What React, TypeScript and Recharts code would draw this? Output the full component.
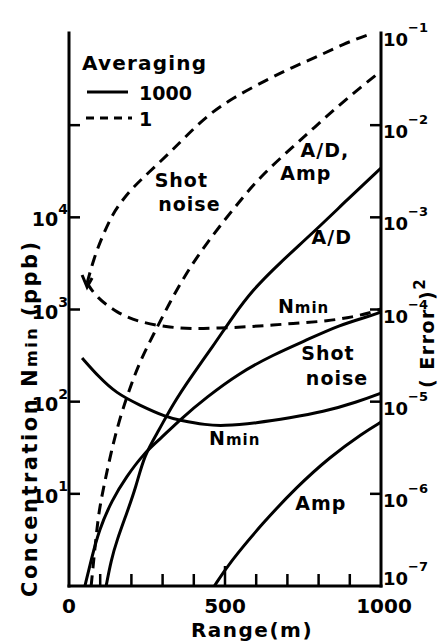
import React from 'react';
import { ComposedChart, Line, XAxis, YAxis, ReferenceDot } from 'recharts';

// Range (m) on x, concentration N (ppb) on y

// averaging 1000 (solid)
const nmin1000X = [42, 96, 151, 225, 312, 354, 441, 492, 601, 707, 814, 923, 1000];
const nmin1000Y = [298, 185, 124, 92, 68, 63, 55.8, 54.4, 58.7, 66.5, 77.3, 99, 124];

const shot1000X = [51, 71, 96, 138, 183, 241, 289, 354, 441, 547, 653, 762, 868, 955, 1000];
const shot1000Y = [1, 1.91, 4.05, 8.6, 15.2, 27.7, 38.4, 63.2, 112, 205, 321, 467, 679, 828, 939];

const ad1000X = [119, 135, 154, 183, 215, 241, 289, 331, 395, 460, 524, 588, 675, 781, 891, 1000];
const ad1000Y = [1, 1.91, 3.16, 5.89, 11.9, 26.4, 49.3, 92, 195, 392, 828, 1627, 3190, 6760, 15400, 34300];

const amp1000X = [466, 514, 621, 730, 836, 942, 1000];
const amp1000Y = [1, 1.78, 4.83, 11.9, 25.1, 45.7, 60];

// averaging 1 (dashed)
const nmin1X = [58, 87, 154, 225, 312, 395, 482, 569, 653, 740, 826, 910, 974, 1000];
const nmin1Y = [1938, 1367, 916, 731, 646, 614, 630, 646, 679, 713, 750, 828, 939, 1012];

const shot1X = [58, 80, 106, 138, 167, 203, 257, 322, 363, 441, 524, 633, 717, 794, 878, 974];
const shot1Y = [1938, 3620, 6110, 10600, 14700, 20800, 31000, 49900, 69000, 126000, 197000, 309000, 427000, 548000, 759000, 1000000];

const adAmp1X = [71, 84, 96, 116, 135, 161, 193, 225, 273, 322, 376, 441, 524, 611, 717, 788, 859, 932, 1000];
const adAmp1Y = [1, 2.79, 6.68, 14.1, 28.4, 63.2, 134, 263, 556, 1176, 2490, 5260, 12000, 27400, 57900, 95500, 157000, 253000, 387000];

// axes
const rangeTicks = [0, 100, 200, 300, 400, 500, 600, 700, 800, 900, 1000];
const rangeLabels = [0, 500, 1000];
const concTicks = [1, 10, 100, 1000, 10000, 100000, 1000000];
const concLabels = [10, 100, 1000, 10000];
const errorTicks = [1e-7, 1e-6, 1e-5, 1e-4, 1e-3, 1e-2, 1e-1];

const averagingLabels = ['1000', '1'];

// curve labels: [range, concentration, text, subscript]
const notes: [number, number, string, string][] = [
  [360, 25400, 'Shot', ''],
  [386, 14000, 'noise', ''],
  [820, 53700, 'A/D,', ''],
  [759, 30300, 'Amp', ''],
  [842, 6120, 'A/D', ''],
  [752, 1091, 'N', 'min'],
  [830, 337, 'Shot', ''],
  [859, 182, 'noise', ''],
  [531, 40.3, 'N', 'min'],
  [807, 7.95, 'Amp', ''],
];

const pts = (xs: number[], ys: number[]) => xs.map((x, i) => ({ x, y: ys[i] }));

const curves = [
  { id: 'nmin1000', data: pts(nmin1000X, nmin1000Y), dashed: false },
  { id: 'shot1000', data: pts(shot1000X, shot1000Y), dashed: false },
  { id: 'ad1000', data: pts(ad1000X, ad1000Y), dashed: false },
  { id: 'amp1000', data: pts(amp1000X, amp1000Y), dashed: false },
  { id: 'nmin1', data: pts(nmin1X, nmin1Y), dashed: true },
  { id: 'shot1', data: pts(shot1X, shot1Y), dashed: true },
  { id: 'adamp1', data: pts(adAmp1X, adAmp1Y), dashed: true },
];

const FONT = '"DejaVu Sans", sans-serif';
const frame = { stroke: '#000', strokeWidth: 3, strokeLinecap: 'square' as const };
const DASH = '11 7';

const BottomTick = (p: any) => {
  const v = p.payload.value;
  const len = v === 500 ? 20 : 12;
  return (
    <g>
      {v > 0 && v < 1000 && <line x1={p.x} y1={p.y} x2={p.x} y2={p.y - len} stroke="#000" strokeWidth={2.5} />}
      {rangeLabels.includes(v) && (
        <text x={v === 1000 ? p.x + 3 : p.x} y={p.y + 27} textAnchor="middle" fontFamily={FONT} fontWeight="bold" fontSize={20} fill="#000">
          {v}
        </text>
      )}
    </g>
  );
};

const TopTick = (p: any) => {
  const v = p.payload.value;
  const len = v === 500 ? 20 : 12;
  if (v <= 0 || v >= 1000) return <g />;
  return <line x1={p.x} y1={p.y} x2={p.x} y2={p.y + len} stroke="#000" strokeWidth={2.5} />;
};

const LeftTick = (p: any) => {
  const v = p.payload.value;
  const k = Math.round(Math.log10(v));
  return (
    <g>
      {k > 0 && k < 6 && <line x1={p.x} y1={p.y} x2={p.x + 11} y2={p.y} stroke="#000" strokeWidth={2.5} />}
      {concLabels.includes(v) && (
        <text x={p.x - 1} y={p.y + 9} textAnchor="end" fontFamily={FONT} fontWeight="bold" fontSize={19} fill="#000">
          10<tspan dy={-12} fontSize={14}>{k}</tspan>
        </text>
      )}
    </g>
  );
};

const RightTick = (p: any) => {
  const v = p.payload.value;
  const k = Math.round(Math.log10(v));
  const base = k === -7 ? p.y - 1 : p.y + 13;
  return (
    <g>
      {k > -7 && k < -1 && <line x1={p.x} y1={p.y} x2={p.x - 11} y2={p.y} stroke="#000" strokeWidth={2.5} />}
      <text x={p.x + 2} y={base} fontFamily={FONT} fontWeight="bold" fontSize={18} fill="#000">
        10<tspan dy={-14} fontSize={13}>{'\u2212' + Math.abs(k)}</tspan>
      </text>
    </g>
  );
};

const NoteLabel = ({ viewBox, text, sub }: any) => {
  const cx = viewBox.x + viewBox.width / 2;
  const cy = viewBox.y + viewBox.height / 2;
  return (
    <text x={cx} y={cy + 7} textAnchor="middle" fontFamily={FONT} fontWeight="bold" fontSize={19} letterSpacing={1} fill="#000">
      {text}
      {sub && <tspan fontSize={15}>{sub}</tspan>}
    </text>
  );
};

const arrowDot = (p: any) => {
  if (p.index !== 0) return <g key={`d${p.index}`} />;
  return (
    <path
      key="arrow"
      d={`M${p.cx - 5},${p.cy - 8} L${p.cx},${p.cy + 4} L${p.cx + 5},${p.cy - 5}`}
      fill="none"
      stroke="#000"
      strokeWidth={3}
    />
  );
};

export default function App() {
  return (
    <div style={{ position: 'absolute', left: 0, top: 0, width: 441, height: 644, background: '#fff' }}>
      <ComposedChart width={441} height={644} margin={{ top: 33, right: 0, bottom: 0, left: 0 }}>
        <XAxis
          xAxisId="b"
          dataKey="x"
          type="number"
          domain={[0, 1000]}
          ticks={rangeTicks}
          interval={0}
          tickSize={0}
          tickMargin={0}
          tickLine={false}
          tick={BottomTick}
          axisLine={frame}
          height={58}
          allowDataOverflow
          label={{
            content: ({ viewBox }: any) => (
              <text
                x={viewBox.x + viewBox.width / 2 + 27}
                y={viewBox.y + 51}
                textAnchor="middle"
                fontFamily={FONT}
                fontWeight="bold"
                fontSize={20}
                letterSpacing={1.5}
                fill="#000"
              >
                Range(m)
              </text>
            ),
          }}
        />
        <XAxis
          xAxisId="t"
          orientation="top"
          dataKey="x"
          type="number"
          domain={[0, 1000]}
          ticks={rangeTicks}
          interval={0}
          tickSize={0}
          tickMargin={0}
          tickLine={false}
          tick={TopTick}
          axisLine={frame}
          height={0}
          allowDataOverflow
        />
        <YAxis
          yAxisId="l"
          type="number"
          scale="log"
          domain={[1, 1e6]}
          ticks={concTicks}
          interval={0}
          tickSize={0}
          tickMargin={0}
          tickLine={false}
          tick={LeftTick}
          axisLine={frame}
          width={69}
          allowDataOverflow
          label={{
            content: () => (
              <text
                transform="translate(37,597) rotate(-90)"
                fontFamily={FONT}
                fontWeight="bold"
                fontSize={21}
                letterSpacing={2.5}
                fill="#000"
              >
                Concentration  N<tspan fontSize={16}>min</tspan>  (ppb)
              </text>
            ),
          }}
        />
        <YAxis
          yAxisId="r"
          orientation="right"
          type="number"
          scale="log"
          domain={[1e-7, 1e-1]}
          ticks={errorTicks}
          interval={0}
          tickSize={0}
          tickMargin={0}
          tickLine={false}
          tick={RightTick}
          axisLine={frame}
          width={60}
          allowDataOverflow
          label={{
            content: () => (
              <text
                transform="translate(434,388) rotate(-90)"
                fontFamily={FONT}
                fontWeight="bold"
                fontSize={19}
                letterSpacing={1.5}
                fill="#000"
              >
                ( Error )<tspan dy={-9} fontSize={15}>2</tspan>
              </text>
            ),
          }}
        />
        {curves.map((c) => (
          <Line
            key={c.id}
            xAxisId="b"
            yAxisId="l"
            data={c.data}
            dataKey="y"
            type="basis"
            stroke="#000"
            strokeWidth={3}
            strokeDasharray={c.dashed ? DASH : undefined}
            dot={c.id === 'shot1' ? arrowDot : false}
            activeDot={false}
            isAnimationActive={false}
          />
        ))}
        {notes.map(([x, y, text, sub], i) => (
          <ReferenceDot
            key={i}
            xAxisId="b"
            yAxisId="l"
            x={x}
            y={y}
            r={0}
            fill="none"
            stroke="none"
            label={{ content: (props: any) => <NoteLabel {...props} text={text} sub={sub} /> }}
          />
        ))}
      </ComposedChart>
      <svg width={441} height={140} style={{ position: 'absolute', left: 0, top: 0 }}>
        <text x={82} y={70} fontFamily={FONT} fontWeight="bold" fontSize={20} letterSpacing={1.2} fill="#000">
          Averaging
        </text>
        <line x1={87} y1={92} x2={128} y2={92} stroke="#000" strokeWidth={3} />
        <text x={139} y={100} fontFamily={FONT} fontWeight="bold" fontSize={19} fill="#000">
          {averagingLabels[0]}
        </text>
        <line x1={86} y1={118} x2={132} y2={118} stroke="#000" strokeWidth={3} strokeDasharray="8 6" />
        <text x={139} y={126} fontFamily={FONT} fontWeight="bold" fontSize={19} fill="#000">
          {averagingLabels[1]}
        </text>
      </svg>
    </div>
  );
}
